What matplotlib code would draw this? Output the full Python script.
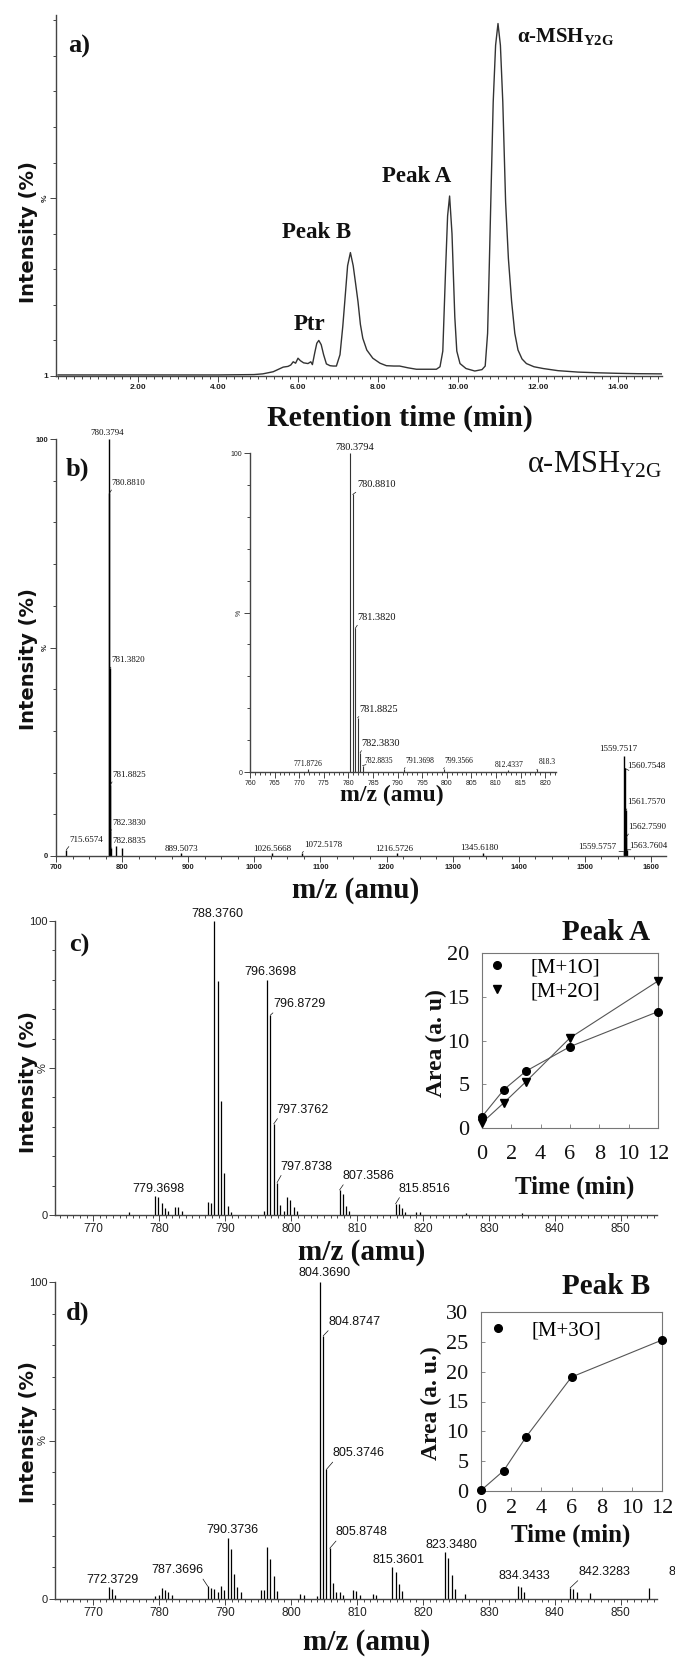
"""
Four-panel figure: chromatogram (a) and ESI mass spectra (b-d) with
kinetics insets for the oxidised species.
"""

import numpy as np
import matplotlib
matplotlib.use("Agg")
import matplotlib.pyplot as plt
from matplotlib.ticker import MultipleLocator

# ---------------------------------------------------------------------------
# Data
# ---------------------------------------------------------------------------

# a) chromatogram trace
RT_MIN = [
    0.00, 1.00, 2.00, 3.00, 4.00, 4.90, 5.12, 5.38, 5.63, 5.75,
    5.82, 5.88, 5.94, 6.00, 6.06, 6.14, 6.25, 6.32, 6.36, 6.42,
    6.47, 6.52, 6.58, 6.64, 6.71, 6.80, 6.88, 6.96, 7.05, 7.12,
    7.17, 7.24, 7.31, 7.38, 7.44, 7.50, 7.56, 7.62, 7.72, 7.87,
    8.05, 8.21, 8.40, 8.54, 8.75, 8.96, 9.20, 9.46, 9.55, 9.62,
    9.69, 9.74, 9.79, 9.85, 9.92, 9.97, 10.05, 10.20, 10.42, 10.60,
    10.68, 10.74, 10.78, 10.82, 10.88, 10.94, 11.00, 11.06, 11.12, 11.19,
    11.26, 11.34, 11.42, 11.50, 11.60, 11.71, 11.90, 12.13, 12.50, 13.00,
    13.50, 14.00, 14.50, 15.10,
]
RT_INTENSITY = [
    0.3, 0.3, 0.3, 0.3, 0.3, 0.4, 0.6, 1.2, 2.5, 2.7,
    3.1, 4.0, 3.6, 5.0, 4.3, 3.7, 3.5, 4.0, 3.2, 6.6,
    9.2, 10.0, 8.8, 6.0, 3.4, 2.9, 2.8, 2.8, 6.0, 14.0,
    21.0, 31.0, 34.7, 31.0, 26.0, 20.9, 14.5, 10.6, 7.3, 5.0,
    3.6, 2.9, 2.8, 2.8, 2.3, 1.9, 1.9, 1.9, 2.6, 7.0,
    30.0, 45.0, 50.6, 40.0, 16.6, 7.0, 3.5, 2.1, 1.4, 1.8,
    2.8, 12.0, 30.0, 49.0, 77.0, 93.0, 99.1, 93.0, 77.0, 49.0,
    33.0, 21.0, 12.0, 7.3, 4.8, 3.5, 2.6, 2.1, 1.5, 1.1,
    0.9, 0.75, 0.65, 0.6,
]
RT_TICKS = [2, 4, 6, 8, 10, 12, 14]

# b) full spectrum of alpha-MSH Y2G and its zoomed inset
B_MZ = [715.6574, 780.3794, 780.8810, 781.3820, 781.8825, 782.3830, 782.8835,
        791.3698, 799.3566, 889.5073, 1026.5668, 1072.5178, 1216.5726,
        1345.6180, 1559.5757, 1559.7517, 1560.7548, 1561.7570, 1562.7590,
        1563.7604]
B_INT = [1.5, 100, 87, 45, 17, 6, 2,
         2.5, 2.0, 0.8, 0.6, 0.8, 0.6,
         0.6, 1.0, 24, 21, 11, 4.5,
         1.5]
B_TICKS = [700, 800, 900, 1000, 1100, 1200, 1300, 1400, 1500, 1600]

BI_MZ = [771.8726, 780.3794, 780.8810, 781.3820, 781.8825, 782.3830,
         782.8835, 791.3698, 799.3566, 812.4337, 818.3]
BI_INT = [0.8, 100, 87, 45, 17, 6, 2, 1.0, 1.0, 0.6, 0.8]
BI_TICKS = [760, 765, 770, 775, 780, 785, 790, 795, 800, 805, 810, 815, 820]

# c) spectrum of peak A
C_MZ = [775.4, 779.3698, 779.87, 780.37, 780.87, 781.37, 782.4, 782.9, 783.4,
        787.37, 787.87, 788.3760, 788.88, 789.38, 789.88, 790.38, 790.9,
        795.9, 796.3698, 796.8729, 797.3762, 797.8738, 798.38, 798.9,
        799.4, 799.9, 800.4, 800.9, 807.3586, 807.86, 808.36, 808.86,
        815.8516, 816.35, 816.85, 817.35, 819.0, 819.5, 826.5, 835.0]
C_INT = [1.0, 6.5, 6.0, 4.0, 2.5, 1.2, 2.8, 2.6, 1.2,
         4.5, 4.0, 100, 79.5, 38.7, 14.2, 3.0, 1.0,
         1.2, 80.0, 68.0, 31.0, 11.0, 3.4, 1.5,
         6.0, 5.2, 2.6, 1.2, 8.5, 7.1, 3.0, 1.2,
         3.8, 3.7, 2.3, 1.0, 1.0, 1.0, 0.8, 0.6]

# d) spectrum of peak B
D_MZ = [772.3729, 772.87, 773.37, 779.4, 779.9, 780.4, 780.9, 781.4, 781.9,
        787.3696, 787.87, 788.37, 788.87, 789.4, 789.9, 790.3736, 790.87,
        791.37, 791.87, 792.4, 795.4, 795.9, 796.37, 796.87, 797.37, 797.87,
        801.4, 801.9, 803.9, 804.3690, 804.8747, 805.3746, 805.8748, 806.37,
        806.87, 807.4, 807.9, 809.37, 809.87, 810.4, 812.4, 812.9, 815.3601,
        815.86, 816.36, 816.86, 823.3480, 823.85, 824.35, 824.85, 826.4,
        834.3433, 834.84, 835.34, 842.3283, 842.83, 843.33, 845.3, 854.3]
D_INT = [3.8, 3.3, 1.4, 1.0, 1.4, 3.5, 2.9, 2.1, 1.2,
         4.0, 3.5, 3.3, 2.1, 4.0, 2.7, 19.2, 15.7,
         8.0, 3.8, 2.1, 2.9, 2.9, 16.3, 12.7, 7.1, 2.4,
         1.7, 1.4, 1.0, 100, 83.0, 40.9, 16.0, 5.2,
         2.1, 2.1, 1.4, 2.9, 2.4, 1.2, 1.5, 1.2, 10.0,
         8.4, 4.8, 2.4, 14.9, 13.0, 7.7, 3.2, 1.5,
         4.0, 3.8, 2.1, 3.5, 3.2, 2.1, 2.0, 3.5]
CD_TICKS = [770, 780, 790, 800, 810, 820, 830, 840, 850]

# kinetics insets
KIN_TIME = [0, 1.5, 3, 6, 12]
KIN_A_M1O = [1.3, 4.4, 6.5, 9.3, 13.3]
KIN_A_M2O = [0.6, 2.9, 5.3, 10.3, 16.8]
KIN_B_M3O = [0.1, 3.4, 9.1, 19.1, 25.3]
KIN_TICKS = [0, 2, 4, 6, 8, 10, 12]

# peak labels: (text, m/z, dx px, dy px, ha, leader, size)
B_LABELS = [
    ("780.3794", 780.3794, -2, 2, "center", False, 6.5),
    ("780.8810", 780.8810, 2, 6, "left", True, 6.5),
    ("781.3820", 781.3820, 2, 4, "left", True, 6.5),
    ("781.8825", 781.8825, 2, 6, "left", True, 6.5),
    ("782.3830", 782.3830, 2, 4, "left", True, 6.5),
    ("782.8835", 782.8835, 2, 3, "left", True, 6.5),
    ("715.6574", 715.6574, 3, 6, "left", True, 6.5),
    ("889.5073", 889.5073, 0, 0, "center", False, 6.5),
    ("1026.5668", 1026.5668, 0, 0, "center", False, 6.5),
    ("1072.5178", 1072.5178, 2, 4, "left", True, 6.5),
    ("1216.5726", 1216.5726, -3, 0, "center", False, 6.5),
    ("1345.6180", 1345.6180, -3, 1, "center", False, 6.5),
    ("1559.5757", 1559.5757, -8, 1, "right", True, 6.5),
    ("1559.7517", 1559.7517, -6, 3, "center", False, 6.5),
    ("1560.7548", 1560.7548, 2, -2, "left", True, 6.5),
    ("1561.7570", 1561.7570, 2, 4, "left", True, 6.5),
    ("1562.7590", 1562.7590, 2, 6, "left", True, 6.5),
    ("1563.7604", 1563.7604, 2, 0, "left", True, 6.5),
]
BI_LABELS = [
    ("780.3794", 780.3794, 4, 1, "center", False, 7.5),
    ("780.8810", 780.8810, 5, 5, "left", True, 7.5),
    ("781.3820", 781.3820, 2, 6, "left", True, 7.5),
    ("781.8825", 781.8825, 2, 4, "left", True, 7.5),
    ("782.3830", 782.3830, 1, 5, "left", True, 7.5),
    ("782.8835", 782.8835, 2, 1, "left", True, 5.5),
    ("771.8726", 771.8726, 0, 1, "center", False, 5.5),
    ("791.3698", 791.3698, 1, 4, "left", True, 5.5),
    ("799.3566", 799.3566, 1, 4, "left", True, 5.5),
    ("812.4337", 812.4337, 1, 1, "center", False, 5.5),
    ("818.3", 818.3, 2, 3, "left", True, 5.5),
]
C_LABELS = [
    ("788.3760", 788.3760, 3, 1, "center", False, 9),
    ("796.3698", 796.3698, 3, 2, "center", False, 9),
    ("796.8729", 796.8729, 3, 5, "left", True, 9),
    ("797.3762", 797.3762, 3, 8, "left", True, 9),
    ("797.8738", 797.8738, 3, 10, "left", True, 9),
    ("807.3586", 807.3586, 3, 8, "left", True, 9),
    ("815.8516", 815.8516, 3, 9, "left", True, 9),
    ("779.3698", 779.3698, 3, 1, "center", False, 9),
]
D_LABELS = [
    ("804.3690", 804.3690, 5, 3, "center", False, 9),
    ("804.8747", 804.8747, 5, 8, "left", True, 9),
    ("805.3746", 805.3746, 6, 10, "left", True, 9),
    ("805.8748", 805.8748, 6, 10, "left", True, 9),
    ("790.3736", 790.3736, 5, 2, "center", False, 9),
    ("787.3696", 787.3696, -4, 10, "right", True, 9),
    ("772.3729", 772.3729, 4, 1, "center", False, 9),
    ("815.3601", 815.3601, 6, 1, "center", False, 9),
    ("823.3480", 823.3480, 6, 1, "center", False, 9),
    ("834.3433", 834.3433, 7, 4, "center", False, 9),
    ("842.3283", 842.3283, 8, 10, "left", True, 9),
    # cut by the right edge of the figure, as in the original
    ("854.3", 854.3, 19, 10, "left", False, 9),
]

# ---------------------------------------------------------------------------
# Layout helpers (pixel boxes on a 675 x 1659 canvas)
# ---------------------------------------------------------------------------

W, H = 675, 1659
SERIF = "Liberation Serif"
SANS = "Liberation Sans"
INK = "#111111"
AXC = "#444444"

plt.rcParams["mathtext.fontset"] = "custom"
plt.rcParams["mathtext.rm"] = SERIF
plt.rcParams["mathtext.bf"] = SERIF + ":bold"

fig = plt.figure(figsize=(W / 100, H / 100), dpi=100)


def add_ax(left, top, right, bottom):
    return fig.add_axes([left / W, 1 - bottom / H, (right - left) / W,
                         (bottom - top) / H])


def ftext(x, y, s, **kw):
    kw.setdefault("color", INK)
    fig.text(x / W, 1 - y / H, s, **kw)


def open_axes(ax, xsize, ysize, bold=False):
    for side in ("top", "right"):
        ax.spines[side].set_visible(False)
    for side in ("left", "bottom"):
        ax.spines[side].set_color(AXC)
        ax.spines[side].set_linewidth(1.0)
    ax.tick_params(which="both", direction="out", color=AXC, width=0.7)
    ax.tick_params(which="major", length=4)
    ax.tick_params(which="minor", length=2.5)
    ax.tick_params(axis="x", labelsize=xsize, pad=1.5, labelcolor="#222")
    ax.tick_params(axis="y", labelsize=ysize, pad=1.5, labelcolor="#222")
    for lab in ax.get_xticklabels() + ax.get_yticklabels():
        lab.set_family(SANS)
        if bold:
            lab.set_fontweight("bold")


def pct_axis(ax, top_label="100"):
    ax.set_yticks([0, 50, 100])
    ax.set_yticklabels(["0", "%", top_label])
    ax.yaxis.set_minor_locator(MultipleLocator(10))


def rotate_pct(ax):
    for lab in ax.get_yticklabels():
        if lab.get_text() == "%":
            lab.set_rotation(90)
            lab.set_va("center")


def label_peaks(ax, mz, inten, labels, family):
    mz = np.asarray(mz)
    inten = np.asarray(inten)
    for text, m, dx, dy, ha, leader, size in labels:
        i = int(np.argmin(np.abs(mz - m)))
        kw = {}
        if leader:
            relx = {"left": 0.05, "right": 0.95, "center": 0.5}[ha]
            kw["arrowprops"] = dict(arrowstyle="-", lw=0.5, color=INK,
                                    shrinkA=0, shrinkB=0, relpos=(relx, 0))
        ax.annotate(text, (mz[i], inten[i]), xytext=(dx, dy),
                    textcoords="offset pixels", ha=ha, va="bottom",
                    fontsize=size, family=family, color=INK,
                    annotation_clip=False, **kw)


def kinetics_axes(ax, ymax, xpad):
    ax.set_xlim(0, 12)
    ax.set_ylim(0, ymax)
    ax.set_xticks(KIN_TICKS)
    ax.set_yticks(np.arange(0, ymax + 1, 5))
    for sp in ax.spines.values():
        sp.set_color("#777777")
        sp.set_linewidth(0.8)
    ax.tick_params(direction="in", length=3, width=0.6, color="#777777",
                   labelsize=16, labelfontfamily=SERIF, labelcolor=INK)
    ax.tick_params(axis="x", pad=xpad)
    ax.tick_params(axis="y", pad=9)


# ---------------------------------------------------------------------------
# a) chromatogram
# ---------------------------------------------------------------------------

ax_a = add_ax(56, 15, 662, 376)
ax_a.plot(RT_MIN, RT_INTENSITY, color="#333333", lw=1.0)
ax_a.set_xlim(-0.05, 15.1)
ax_a.set_ylim(0, 101.5)
ax_a.set_xticks(RT_TICKS)
ax_a.set_xticklabels([f"{v:.2f}" for v in RT_TICKS])
ax_a.xaxis.set_minor_locator(MultipleLocator(0.2))
ax_a.set_yticks([0, 50])
ax_a.set_yticklabels(["1", "%"])
ax_a.yaxis.set_minor_locator(MultipleLocator(10))
open_axes(ax_a, 6, 6, bold=True)
rotate_pct(ax_a)

ftext(68, 46, "a)", fontsize=19, family=SERIF, fontweight="bold", va="center")
ftext(417, 177, "Peak A", fontsize=16.5, family=SERIF, fontweight="bold",
      ha="center", va="center")
ftext(317, 233, "Peak B", fontsize=16.5, family=SERIF, fontweight="bold",
      ha="center", va="center")
ftext(309, 324, "Ptr", fontsize=16.5, family=SERIF, fontweight="bold",
      ha="center", va="center")
ftext(517, 37, r"α-MSH$_{\mathbf{Y2G}}$", fontsize=15, family=SERIF,
      fontweight="bold", va="center")
ftext(400, 418, "Retention time (min)", fontsize=21.5, family=SERIF,
      fontweight="bold", ha="center", va="center")

# ---------------------------------------------------------------------------
# b) full spectrum + inset
# ---------------------------------------------------------------------------

ax_b = add_ax(56, 439, 666, 856)
ax_b.vlines(B_MZ, 0, B_INT, color="black", lw=1.0)
ax_b.set_xlim(700, 1622.8)
ax_b.set_ylim(0, 100)
ax_b.set_xticks(B_TICKS)
ax_b.xaxis.set_minor_locator(MultipleLocator(25))
pct_axis(ax_b)
open_axes(ax_b, 5.5, 5.5, bold=True)
rotate_pct(ax_b)
label_peaks(ax_b, B_MZ, B_INT, B_LABELS, SERIF)

ax_bi = add_ax(250, 453, 556, 772)
ax_bi.patch.set_alpha(0)
ax_bi.vlines(BI_MZ, 0, BI_INT, color="#333333", lw=0.8)
ax_bi.set_xlim(760, 822.2)
ax_bi.set_ylim(0, 100)
ax_bi.set_xticks(BI_TICKS)
ax_bi.xaxis.set_minor_locator(MultipleLocator(1))
pct_axis(ax_bi)
open_axes(ax_bi, 5, 5)
rotate_pct(ax_bi)
label_peaks(ax_bi, BI_MZ, BI_INT, BI_LABELS, SERIF)

ftext(66, 469, "b)", fontsize=19, family=SERIF, fontweight="bold", va="center")
ftext(527, 465, r"α-MSH$_{\mathrm{Y2G}}$", fontsize=22, family=SERIF,
      va="center")
ftext(392, 795, "m/z (amu)", fontsize=17, family=SERIF, fontweight="bold",
      ha="center", va="center")
ftext(356, 890, "m/z (amu)", fontsize=21, family=SERIF, fontweight="bold",
      ha="center", va="center")

# ---------------------------------------------------------------------------
# c) and d) spectra of the oxidised peaks + kinetics insets
# ---------------------------------------------------------------------------

for top, bottom, mz, inten, labels in ((921, 1215, C_MZ, C_INT, C_LABELS),
                                       (1282, 1599, D_MZ, D_INT, D_LABELS)):
    ax = add_ax(55, top, 657, bottom)
    ax.vlines(mz, 0, inten, color="black", lw=0.9)
    ax.set_xlim(764.2, 855.5)
    ax.set_ylim(0, 100)
    ax.set_xticks(CD_TICKS)
    ax.xaxis.set_minor_locator(MultipleLocator(1))
    pct_axis(ax)
    open_axes(ax, 8.5, 8)
    ax.tick_params(which="minor", length=2)
    rotate_pct(ax)
    label_peaks(ax, mz, inten, labels, SANS)

ax_ka = add_ax(482, 953, 658, 1128)
ax_ka.plot(KIN_TIME, KIN_A_M1O, color="#555555", lw=0.8)
ax_ka.plot(KIN_TIME, KIN_A_M2O, color="#555555", lw=0.8)
ax_ka.plot(KIN_TIME, KIN_A_M1O, "o", color="black", ms=5.5, clip_on=False,
           label="[M+1O]", zorder=3)
ax_ka.plot(KIN_TIME, KIN_A_M2O, "v", color="black", ms=6, clip_on=False,
           label="[M+2O]", zorder=3)
kinetics_axes(ax_ka, 20, 12)
ax_ka.legend(loc="upper left", bbox_to_anchor=(0.014, 0.971), frameon=False,
             borderpad=0, borderaxespad=0, handlelength=1.2,
             handletextpad=1.0, labelspacing=0.2,
             prop={"family": SERIF, "size": 15})

ax_kb = add_ax(481, 1312, 662, 1491)
ax_kb.plot(KIN_TIME, KIN_B_M3O, color="#555555", lw=0.8)
ax_kb.plot(KIN_TIME, KIN_B_M3O, "o", color="black", ms=5.5, clip_on=False,
           label="[M+3O]", zorder=3)
kinetics_axes(ax_kb, 30, 6)
ax_kb.legend(loc="upper left", bbox_to_anchor=(0.025, 0.95), frameon=False,
             borderpad=0, borderaxespad=0, handlelength=1.2,
             handletextpad=1.0, prop={"family": SERIF, "size": 15})

ftext(69, 945, "c)", fontsize=19, family=SERIF, fontweight="bold", va="center")
ftext(66, 1313, "d)", fontsize=19, family=SERIF, fontweight="bold", va="center")
ftext(606, 932, "Peak A", fontsize=21, family=SERIF, fontweight="bold",
      ha="center", va="center")
ftext(606, 1286, "Peak B", fontsize=21, family=SERIF, fontweight="bold",
      ha="center", va="center")
ftext(436, 1043, "Area (a. u)", fontsize=17, family=SERIF, fontweight="bold",
      ha="center", va="center", rotation=90)
ftext(431, 1403, "Area (a. u.)", fontsize=17, family=SERIF, fontweight="bold",
      ha="center", va="center", rotation=90)
ftext(575, 1187, "Time (min)", fontsize=18, family=SERIF, fontweight="bold",
      ha="center", va="center")
ftext(571, 1535, "Time (min)", fontsize=18, family=SERIF, fontweight="bold",
      ha="center", va="center")
ftext(362, 1252, "m/z (amu)", fontsize=21, family=SERIF, fontweight="bold",
      ha="center", va="center")
ftext(367, 1643, "m/z (amu)", fontsize=21, family=SERIF, fontweight="bold",
      ha="center", va="center")

# y labels shared by all four panels
for yc in (232, 659, 1082, 1432):
    ftext(29, yc, "Intensity (%)", fontsize=14, family="DejaVu Sans",
          fontweight="bold", ha="center", va="center", rotation=90)

fig.savefig("out.png", dpi=100, facecolor="white")
